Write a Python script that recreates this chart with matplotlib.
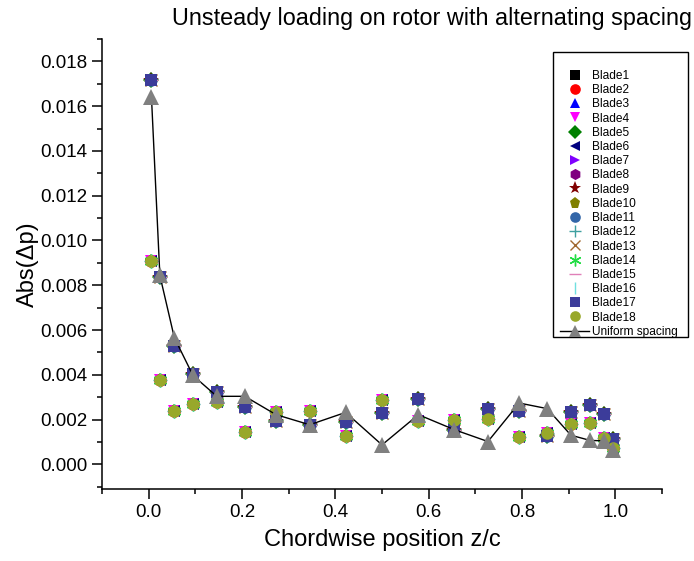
import matplotlib
matplotlib.use("Agg")
import matplotlib.pyplot as plt
from matplotlib.ticker import MultipleLocator, FormatStrFormatter
from matplotlib.patches import Rectangle

plt.rcParams['font.family'] = ['Liberation Sans', 'DejaVu Sans']

# chordwise positions z/c
z_c = [0.006, 0.024, 0.055, 0.095, 0.146, 0.206, 0.273, 0.345, 0.422, 0.500,
       0.578, 0.655, 0.727, 0.794, 0.854, 0.905, 0.946, 0.976, 0.994]

# odd-numbered blades (Blade1, 3, ..., 17)
odd_blades = [0.01715, 0.00837, 0.00527, 0.00402, 0.00323, 0.00256, 0.00192, 0.00174,
              0.00189, 0.00230, 0.00293, 0.00155, 0.00247, 0.00238, 0.00128, 0.00234,
              0.00264, 0.00225, 0.00112]

# even-numbered blades (Blade2, 4, ..., 18)
even_blades = [0.00908, 0.00375, 0.00237, 0.00271, 0.00280, 0.00146, 0.00234, 0.00238,
               0.00125, 0.00289, 0.00195, 0.00197, 0.00201, 0.00122, 0.00138, 0.00182,
               0.00185, 0.00120, 0.00075]

# uniform spacing rotor
uniform = [0.0164, 0.00844, 0.00566, 0.00397, 0.00304, 0.00304, 0.00222, 0.00177,
           0.00232, 0.00087, 0.00222, 0.00155, 0.00102, 0.00274, 0.00249, 0.00130,
           0.00107, 0.00105, 0.00063]

blade_names = ["Blade%d" % i for i in range(1, 19)]
blade_markers = ['s', 'o', '^', 'v', 'D', '<', '>', 'h', '*', 'p', 'o', '+', 'x',
                 (6, 2, 0), '_', '|', 's', 'o']
blade_colors = ['#000000', '#FF0000', '#0000FF', '#FF00FF', '#008000', '#000080',
                '#8000FF', '#800080', '#800000', '#808000', '#3366A8', '#3FA0A0',
                '#A06830', '#22DD44', '#E080B8', '#70E0E0', '#3C3C9A', '#98A82A']
blade_sizes = [9, 9, 9, 9, 8.5, 9, 9, 9.5, 11.5, 9.5, 9, 10, 9, 10, 10, 10, 9, 9]

fig = plt.figure(figsize=(6.94, 5.61), dpi=100)
ax = fig.add_axes([102/694, 1-489/561, (662-102)/694, (489-39)/561])

for i in range(18):
    vals = odd_blades if i % 2 == 0 else even_blades
    m = blade_markers[i]
    lw = 1.0 if m in ('+', 'x', '_', '|') or isinstance(m, tuple) else 0
    ax.plot(z_c, vals, linestyle='none', marker=m, markersize=blade_sizes[i],
            color=blade_colors[i], markeredgecolor=blade_colors[i],
            markeredgewidth=lw, label=blade_names[i], zorder=2 + i * 0.01)

ax.plot(z_c, uniform, color='black', linewidth=1.0, marker='^', markersize=11,
        markerfacecolor='#808080', markeredgecolor='#808080', markeredgewidth=0,
        label='Uniform spacing', zorder=3)

ax.set_xlim(-0.1, 1.1)
ax.set_ylim(-0.0011, 0.019)
ax.xaxis.set_major_locator(MultipleLocator(0.2))
ax.xaxis.set_minor_locator(MultipleLocator(0.1))
ax.yaxis.set_major_locator(MultipleLocator(0.002))
ax.yaxis.set_minor_locator(MultipleLocator(0.001))
ax.xaxis.set_major_formatter(FormatStrFormatter('%.1f'))
ax.yaxis.set_major_formatter(FormatStrFormatter('%.3f'))

for s in ['top', 'right']:
    ax.spines[s].set_visible(False)
for s in ['left', 'bottom']:
    ax.spines[s].set_linewidth(1.1)
ax.tick_params(which='major', direction='out', length=7, width=1.1, labelsize=13.5)
ax.tick_params(which='minor', direction='out', length=3.5, width=1.1)

ax.set_xlabel('Chordwise position z/c', fontsize=17, labelpad=6)
ax.set_ylabel('Abs(Δp)', fontsize=17, labelpad=1)
fig.text(432/694, 1-18/561, 'Unsteady loading on rotor with alternating spacing',
         fontsize=16.8, ha='center', va='center')

# legend frame
fig.patches.append(Rectangle((553/694, 1-337/561), (688-553)/694, (337-52)/561,
                             transform=fig.transFigure, facecolor='white',
                             edgecolor='black', linewidth=1.0, zorder=5))
handles, labels = ax.get_legend_handles_labels()
leg = fig.legend(handles, labels, loc='upper left', bbox_to_anchor=(560/694, 1-70/561),
                 bbox_transform=fig.transFigure, fontsize=8.6, frameon=False,
                 labelspacing=0.185, handlelength=2.45, handletextpad=0.2,
                 borderpad=0, markerscale=0.85, borderaxespad=0)
leg.set_zorder(6)

fig.savefig('out.png', dpi=100)
